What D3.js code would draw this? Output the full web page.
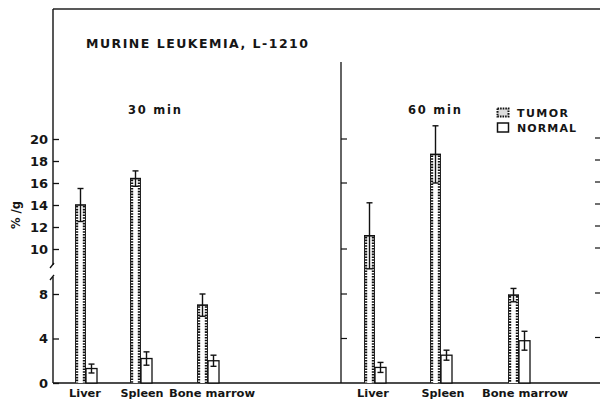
<!DOCTYPE html>
<html>
<head>
<meta charset="utf-8">
<script src="https://cdn.jsdelivr.net/npm/d3@7"></script>
<style>
body { margin: 0; background: #fff; }
text { font-family: "DejaVu Sans", sans-serif; font-weight: bold; fill: #151515; }
</style>
</head>
<body>
<div id="chart"></div>
<script>
// data (% dose per gram)
var organs = ["Liver", "Spleen", "Bone marrow"];
var panelTitles = ["30 min", "60 min"];
var tumor30 = [14.0, 16.4, 7.0];
var tumor30Err = [1.5, 0.7, 1.0];
var normal30 = [1.3, 2.2, 2.0];
var normal30Err = [0.4, 0.6, 0.5];
var tumor60 = [11.2, 18.6, 7.9];
var tumor60Err = [3.0, 2.6, 0.6];
var normal60 = [1.4, 2.5, 3.8];
var normal60Err = [0.45, 0.45, 0.85];
var upperTicks = [10, 12, 14, 16, 18, 20];
var lowerTicks = [0, 4, 8];
var midTicks = [4, 8, 10, 16, 20];
var legendLabels = ["TUMOR", "NORMAL"];

var width = 600, height = 401;
var axisX = 53, midX = 341, baseY = 383, topY = 9;
var barW = 11;

var svg = d3.select("#chart")
  .append("svg")
  .attr("width", width)
  .attr("height", height);

// broken y axis: two linear pieces with the same unit size
var yLow = d3.scaleLinear().domain([0, 8]).range([baseY, 294]);
var yUp = d3.scaleLinear().domain([10, 20]).range([249, 139]);
function yFor(v) { return v >= 10 ? yUp : yLow; }

// groups are not evenly spaced in the figure
var xScales = [
  d3.scaleOrdinal().domain(organs).range([86, 141, 208]),
  d3.scaleOrdinal().domain(organs).range([375, 441, 519])
];
var labelScales = [
  d3.scaleOrdinal().domain(organs).range([85, 142, 212]),
  d3.scaleOrdinal().domain(organs).range([373, 443, 525])
];

// frame top + baseline
svg.append("line").attr("x1", axisX).attr("x2", width).attr("y1", topY).attr("y2", topY)
  .attr("stroke", "#222").attr("stroke-width", 1.3);
svg.append("line").attr("x1", axisX).attr("x2", width).attr("y1", baseY).attr("y2", baseY)
  .attr("stroke", "#111").attr("stroke-width", 1.5);

// left axis, upper part
var gUp = svg.append("g").attr("transform", "translate(" + axisX + ",0)")
  .call(d3.axisLeft(yUp).tickValues(upperTicks).tickSize(-6).tickPadding(5));
var gLow = svg.append("g").attr("transform", "translate(" + axisX + ",0)")
  .call(d3.axisLeft(yLow).tickValues(lowerTicks).tickSize(-6).tickPadding(5));
[gUp, gLow].forEach(function(g) {
  g.select(".domain").remove();
  g.selectAll(".tick line").attr("stroke", "#111").attr("stroke-width", 1.3);
  g.selectAll(".tick text").style("font-size", "13px").attr("fill", "#151515")
    .style("font-family", "DejaVu Sans").style("font-weight", "bold");
});
svg.append("line").attr("x1", axisX).attr("x2", axisX).attr("y1", topY).attr("y2", 265)
  .attr("stroke", "#111").attr("stroke-width", 1.4);
svg.append("line").attr("x1", axisX).attr("x2", axisX).attr("y1", 277).attr("y2", baseY)
  .attr("stroke", "#111").attr("stroke-width", 1.4);
// break marks
[265, 277].forEach(function(b) {
  svg.append("line").attr("x1", axisX - 3).attr("y1", b + 3).attr("x2", axisX + 1).attr("y2", b - 2)
    .attr("stroke", "#111").attr("stroke-width", 1.3);
});

// middle axis between the two panels
svg.append("line").attr("x1", midX).attr("x2", midX).attr("y1", 62).attr("y2", baseY)
  .attr("stroke", "#111").attr("stroke-width", 1.3);
var gMid = svg.append("g").attr("transform", "translate(" + midX + ",0)");
gMid.selectAll("line").data(midTicks).enter().append("line")
  .attr("x1", 0).attr("x2", 6)
  .attr("y1", function(d) { return yFor(d)(d); })
  .attr("y2", function(d) { return yFor(d)(d); })
  .attr("stroke", "#111").attr("stroke-width", 1.2);

// right axis (line falls outside the picture, only ticks show)
var gRight = svg.append("g").attr("transform", "translate(" + width + ",0)");
gRight.selectAll("line").data(upperTicks.concat([4, 8])).enter().append("line")
  .attr("x1", -5).attr("x2", 0)
  .attr("y1", function(d) { return yFor(d)(d) - 1; })
  .attr("y2", function(d) { return yFor(d)(d) - 1; })
  .attr("stroke", "#111").attr("stroke-width", 1.2);

// y label
svg.append("text")
  .attr("transform", "translate(20,215) rotate(-90)")
  .style("text-anchor", "middle")
  .style("font-size", "11.5px")
  .text("% /g");

// title
svg.append("text").attr("x", 86).attr("y", 48)
  .style("font-size", "12.5px")
  .attr("textLength", 222).attr("lengthAdjust", "spacing")
  .text("MURINE LEUKEMIA, L-1210");

var panelTitleX = [128, 408];
var labelWidths = { "Liver": 32, "Spleen": 43, "Bone marrow": 86 };

function drawTumor(g, x, v) {
  var top = yFor(v)(v);
  g.append("rect").attr("x", x).attr("y", top).attr("width", barW).attr("height", baseY - top)
    .attr("fill", "#fff");
  [x + 0.5, x + barW - 0.5].forEach(function(sx, k) {
    g.append("line").attr("x1", sx).attr("x2", sx).attr("y1", top).attr("y2", baseY)
      .attr("stroke", "#222").attr("stroke-width", 1);
    var ix = k === 0 ? sx + 1.6 : sx - 1.6;
    g.append("line").attr("x1", ix).attr("x2", ix).attr("y1", top + 1).attr("y2", baseY)
      .attr("stroke", "#111").attr("stroke-width", 2.2)
      .style("stroke-dasharray", "1.6,1.2");
  });
  g.append("line").attr("x1", x).attr("x2", x + barW).attr("y1", top).attr("y2", top)
    .attr("stroke", "#111").attr("stroke-width", 1.6);
}

function drawNormal(g, x, v) {
  var top = yFor(v)(v);
  g.append("rect").attr("x", x).attr("y", top).attr("width", barW).attr("height", baseY - top)
    .attr("fill", "#fff").attr("stroke", "#111").attr("stroke-width", 1.3);
}

function drawErr(g, cx, v, e) {
  var y = yFor(v);
  g.append("line").attr("x1", cx).attr("x2", cx).attr("y1", y(v - e)).attr("y2", y(v + e))
    .attr("stroke", "#111").attr("stroke-width", 1.4);
  [v - e, v + e].forEach(function(c) {
    g.append("line").attr("x1", cx - 3).attr("x2", cx + 3).attr("y1", y(c)).attr("y2", y(c))
      .attr("stroke", "#111").attr("stroke-width", 1.4);
  });
}

var tumorVals = [tumor30, tumor60], tumorErrs = [tumor30Err, tumor60Err];
var normalVals = [normal30, normal60], normalErrs = [normal30Err, normal60Err];

panelTitles.forEach(function(title, p) {
  var x = xScales[p];
  var g = svg.append("g");
  organs.forEach(function(o, i) {
    var c = x(o);
    drawTumor(g, c - barW, tumorVals[p][i]);
    drawNormal(g, c, normalVals[p][i]);
    drawErr(g, c - barW / 2, tumorVals[p][i], tumorErrs[p][i]);
    drawErr(g, c + barW / 2, normalVals[p][i], normalErrs[p][i]);
  });
  g.selectAll(".cat").data(organs).enter().append("text")
    .attr("class", "cat")
    .attr("x", function(d) { return labelScales[p](d); })
    .attr("y", 397)
    .style("text-anchor", "middle")
    .style("font-size", "10px")
    .attr("textLength", function(d) { return labelWidths[d]; })
    .attr("lengthAdjust", "spacingAndGlyphs")
    .text(function(d) { return d; });
  svg.append("text").attr("x", panelTitleX[p]).attr("y", 114)
    .style("font-size", "11.5px")
    .attr("textLength", 53).attr("lengthAdjust", "spacing")
    .text(title);
});

// legend
var leg = svg.append("g").attr("transform", "translate(497,108)");
leg.append("rect").attr("x", 0.5).attr("y", 0.5).attr("width", 11).attr("height", 8)
  .attr("fill", "#ddd").attr("stroke", "#111").attr("stroke-width", 2)
  .style("stroke-dasharray", "1.6,1");
leg.append("rect").attr("x", 0.5).attr("y", 15).attr("width", 11).attr("height", 9)
  .attr("fill", "#fff").attr("stroke", "#111").attr("stroke-width", 1.5);
leg.selectAll(".lt").data(legendLabels).enter().append("text")
  .attr("x", 20)
  .attr("y", function(d, i) { return 8.5 + i * 15.5; })
  .style("font-size", "11px")
  .attr("textLength", function(d, i) { return i === 0 ? 51 : 59; })
  .attr("lengthAdjust", "spacing")
  .text(function(d) { return d; });
</script>
</body>
</html>
